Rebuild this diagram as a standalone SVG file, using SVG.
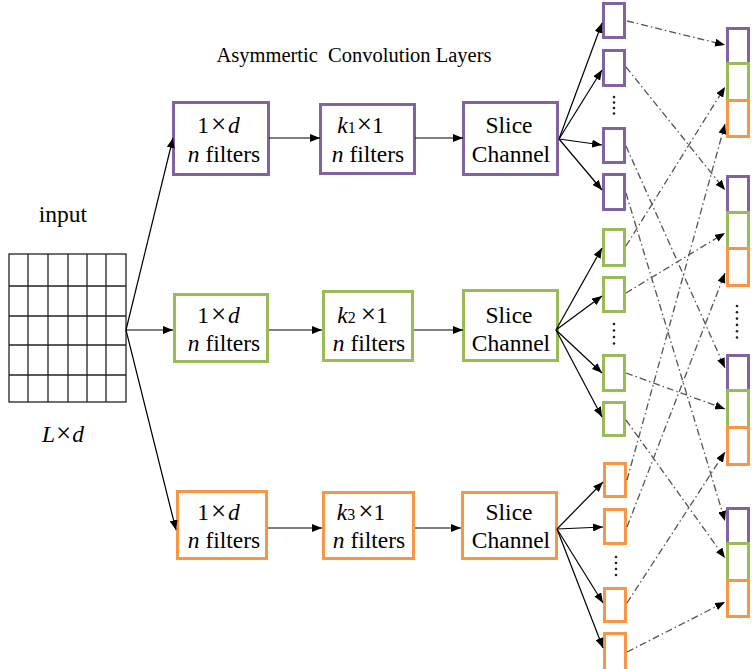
<svg xmlns="http://www.w3.org/2000/svg" width="752" height="669" viewBox="0 0 752 669">
<defs>
<style>
.t{font-family:"Liberation Serif","Times New Roman",serif;font-size:23.5px;fill:#000;}
.i{font-style:italic;}
.x{font-size:27px;}
.pu{fill:#fff;stroke:#8064A2;stroke-width:3;}
.gr{fill:#fff;stroke:#9BBB59;stroke-width:3;}
.or{fill:#fff;stroke:#F79646;stroke-width:3;}
.ln{stroke:#000;stroke-width:1.2;fill:none;marker-end:url(#ah);}
.dd{stroke:#555;stroke-width:1.3;fill:none;stroke-dasharray:7 3 1.5 3;marker-end:url(#ah);}
.gd{stroke:#222;stroke-width:1.3;fill:none;}
.dot{fill:#222;}
.sub{font-size:16px;}
</style>
<marker id="ah" viewBox="0 0 10 8" refX="10" refY="4" markerWidth="10" markerHeight="8" markerUnits="userSpaceOnUse" orient="auto">
<path d="M0,0 L10,4 L0,8 z" fill="#000"/>
</marker>
</defs>
<rect width="752" height="669" fill="#fff"/>

<g id="title"><text class="t" x="354" y="62" text-anchor="middle" style="font-size:20.5px;white-space:pre">Asymmertic  Convolution Layers</text></g>

<g id="input">
<text class="t" x="63" y="222" text-anchor="middle">input</text>
<g class="gd">
<rect x="9" y="254" width="117" height="148"/>
<line x1="28" y1="254" x2="28" y2="402"/>
<line x1="48" y1="254" x2="48" y2="402"/>
<line x1="68" y1="254" x2="68" y2="402"/>
<line x1="87" y1="254" x2="87" y2="402"/>
<line x1="106" y1="254" x2="106" y2="402"/>
<line x1="9" y1="286" x2="126" y2="286"/>
<line x1="9" y1="316" x2="126" y2="316"/>
<line x1="9" y1="345" x2="126" y2="345"/>
<line x1="9" y1="375" x2="126" y2="375"/>
</g>
<text class="t" x="63" y="442" text-anchor="middle"><tspan class="i">L</tspan><tspan class="x" dx="1">×</tspan><tspan class="i" dx="1">d</tspan></text>
</g>

<g id="conv1a"><rect class="pu" x="173.5" y="102.5" width="95" height="72"/>
<text class="t" x="218.5" y="133" text-anchor="middle">1<tspan class="x" dx="2">×</tspan><tspan class="i" dx="2">d</tspan></text>
<text class="t" x="224" y="162" text-anchor="middle"><tspan class="i">n</tspan> filters</text></g>
<g id="conv1b"><rect class="pu" x="320.5" y="104.5" width="94" height="69"/>
<text class="t" x="360.5" y="133" text-anchor="middle"><tspan class="i">k</tspan><tspan class="sub">1</tspan><tspan class="x" dx="1">×</tspan>1</text>
<text class="t" x="368" y="162" text-anchor="middle"><tspan class="i">n</tspan> filters</text></g>
<g id="slice1"><rect class="pu" x="463.5" y="102.5" width="94" height="72"/>
<text class="t" x="509" y="133" text-anchor="middle">Slice</text>
<text class="t" x="511" y="162" text-anchor="middle">Channel</text></g>

<g id="conv2a"><rect class="gr" x="174.5" y="294.5" width="93" height="67"/>
<text class="t" x="218.5" y="323" text-anchor="middle">1<tspan class="x" dx="2">×</tspan><tspan class="i" dx="2">d</tspan></text>
<text class="t" x="224" y="351" text-anchor="middle"><tspan class="i">n</tspan> filters</text></g>
<g id="conv2b"><rect class="gr" x="323.5" y="291.5" width="89" height="69"/>
<text class="t" x="362.5" y="323" text-anchor="middle"><tspan class="i">k</tspan><tspan class="sub">2</tspan><tspan class="x" dx="5">×</tspan>1</text>
<text class="t" x="369" y="351" text-anchor="middle"><tspan class="i">n</tspan> filters</text></g>
<g id="slice2"><rect class="gr" x="463.5" y="290.5" width="94" height="70"/>
<text class="t" x="509" y="323" text-anchor="middle">Slice</text>
<text class="t" x="511" y="351" text-anchor="middle">Channel</text></g>

<g id="conv3a"><rect class="or" x="177.5" y="491.5" width="89" height="67"/>
<text class="t" x="218.5" y="520" text-anchor="middle">1<tspan class="x" dx="2">×</tspan><tspan class="i" dx="2">d</tspan></text>
<text class="t" x="224" y="548" text-anchor="middle"><tspan class="i">n</tspan> filters</text></g>
<g id="conv3b"><rect class="or" x="323.5" y="492.5" width="90" height="66"/>
<text class="t" x="361" y="520" text-anchor="middle"><tspan class="i">k</tspan><tspan class="sub">3</tspan><tspan class="x" dx="3">×</tspan>1</text>
<text class="t" x="369" y="548" text-anchor="middle"><tspan class="i">n</tspan> filters</text></g>
<g id="slice3"><rect class="or" x="462.5" y="492.5" width="94" height="66"/>
<text class="t" x="509" y="520" text-anchor="middle">Slice</text>
<text class="t" x="511" y="548" text-anchor="middle">Channel</text></g>

<g id="slices-purple">
<rect class="pu" x="603.5" y="3.5" width="21" height="34"/>
<rect class="pu" x="603.5" y="50.5" width="21" height="35"/>
<rect class="pu" x="603.5" y="128.5" width="21" height="34"/>
<rect class="pu" x="603.5" y="174.5" width="21" height="35"/>
<circle class="dot" cx="614" cy="97" r="1.3"/><circle class="dot" cx="614" cy="102.5" r="1.3"/><circle class="dot" cx="614" cy="108" r="1.3"/><circle class="dot" cx="614" cy="113.5" r="1.3"/>
</g>
<g id="slices-green">
<rect class="gr" x="603.5" y="229.5" width="21" height="36"/>
<rect class="gr" x="603.5" y="277.5" width="21" height="34"/>
<rect class="gr" x="603.5" y="355.5" width="21" height="35"/>
<rect class="gr" x="603.5" y="402.5" width="21" height="33"/>
<circle class="dot" cx="614" cy="324" r="1.3"/><circle class="dot" cx="614" cy="330.5" r="1.3"/><circle class="dot" cx="614" cy="337" r="1.3"/><circle class="dot" cx="614" cy="343.5" r="1.3"/>
</g>
<g id="slices-orange">
<rect class="or" x="604.5" y="463.5" width="21" height="33"/>
<rect class="or" x="604.5" y="509.5" width="21" height="34"/>
<rect class="or" x="604.5" y="588.5" width="21" height="33"/>
<rect class="or" x="604.5" y="633.5" width="21" height="37"/>
<circle class="dot" cx="616" cy="557" r="1.3"/><circle class="dot" cx="616" cy="563" r="1.3"/><circle class="dot" cx="616" cy="569" r="1.3"/><circle class="dot" cx="616" cy="575" r="1.3"/>
</g>

<g id="concat1">
<rect class="pu" x="727.5" y="28.5" width="21" height="35"/>
<rect class="gr" x="727.5" y="63.5" width="21" height="37"/>
<rect class="or" x="727.5" y="100.5" width="21" height="36"/>
</g>
<g id="concat2">
<rect class="pu" x="727.5" y="176.5" width="21" height="36"/>
<rect class="gr" x="727.5" y="212.5" width="21" height="36"/>
<rect class="or" x="727.5" y="248.5" width="21" height="37"/>
</g>
<g id="concat-dots">
<circle class="dot" cx="737" cy="306" r="1.3"/><circle class="dot" cx="737" cy="312.3" r="1.3"/><circle class="dot" cx="737" cy="318.6" r="1.3"/><circle class="dot" cx="737" cy="324.9" r="1.3"/><circle class="dot" cx="737" cy="331.2" r="1.3"/><circle class="dot" cx="737" cy="337.5" r="1.3"/>
</g>
<g id="concat3">
<rect class="pu" x="727.5" y="355.5" width="21" height="35"/>
<rect class="gr" x="727.5" y="390.5" width="21" height="37"/>
<rect class="or" x="727.5" y="427.5" width="21" height="37"/>
</g>
<g id="concat4">
<rect class="pu" x="727.5" y="508.5" width="21" height="35"/>
<rect class="gr" x="727.5" y="543.5" width="21" height="37"/>
<rect class="or" x="727.5" y="580.5" width="21" height="36"/>
</g>

<g id="connectors">
<line class="ln" x1="126" y1="330" x2="173" y2="138"/>
<line class="ln" x1="126" y1="330" x2="173" y2="330"/>
<line class="ln" x1="126" y1="330" x2="176" y2="530"/>
<line class="ln" x1="269" y1="138" x2="320" y2="138"/>
<line class="ln" x1="415" y1="138" x2="463" y2="138"/>
<line class="ln" x1="269" y1="330" x2="322" y2="330"/>
<line class="ln" x1="414" y1="330" x2="463" y2="330"/>
<line class="ln" x1="268" y1="528" x2="322" y2="528"/>
<line class="ln" x1="415" y1="528" x2="461" y2="528"/>
<line class="ln" x1="559" y1="139" x2="602" y2="23"/>
<line class="ln" x1="559" y1="139" x2="602" y2="70"/>
<line class="ln" x1="559" y1="139" x2="602" y2="145"/>
<line class="ln" x1="559" y1="139" x2="602" y2="190"/>
<line class="ln" x1="556" y1="330" x2="602" y2="248"/>
<line class="ln" x1="556" y1="330" x2="602" y2="296"/>
<line class="ln" x1="556" y1="330" x2="602" y2="373"/>
<line class="ln" x1="556" y1="330" x2="602" y2="417"/>
<line class="ln" x1="557" y1="529" x2="603" y2="482"/>
<line class="ln" x1="557" y1="529" x2="603" y2="527"/>
<line class="ln" x1="557" y1="529" x2="603" y2="603"/>
<line class="ln" x1="557" y1="529" x2="603" y2="648"/>
<line class="dd" x1="627" y1="21" x2="725" y2="45"/>
<line class="dd" x1="626" y1="67" x2="725" y2="190"/>
<line class="dd" x1="626" y1="146" x2="725" y2="368"/>
<line class="dd" x1="626" y1="193" x2="725" y2="521"/>
<line class="dd" x1="626" y1="246" x2="725" y2="87"/>
<line class="dd" x1="626" y1="293" x2="725" y2="233"/>
<line class="dd" x1="626" y1="373" x2="725" y2="409"/>
<line class="dd" x1="626" y1="420" x2="725" y2="558"/>
<line class="dd" x1="627" y1="480" x2="725" y2="124"/>
<line class="dd" x1="627" y1="527" x2="725" y2="273"/>
<line class="dd" x1="627" y1="603" x2="725" y2="452"/>
<line class="dd" x1="627" y1="652" x2="725" y2="602"/>
</g>
</svg>
